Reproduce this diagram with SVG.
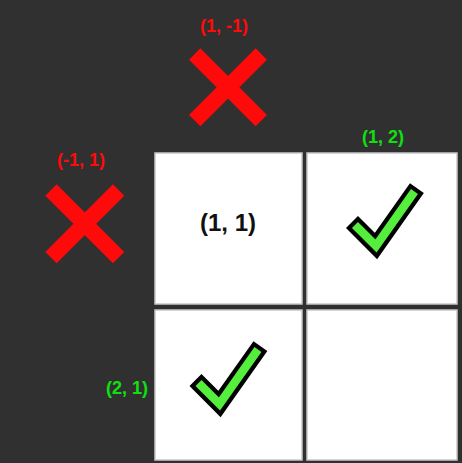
<svg xmlns="http://www.w3.org/2000/svg" width="462" height="463" viewBox="0 0 462 463">
<defs>
<style>
.cell{fill:#ffffff;stroke:#c8c8c8;stroke-width:1.5}
.lbl{font-family:"Liberation Sans",Arial,sans-serif;font-weight:bold;font-size:18px;text-anchor:middle}
.red{fill:#ff0a0a}
.grn{fill:#10e010}
.x{stroke:#ff0a0a;stroke-width:16;stroke-linecap:butt;fill:none}
.ckb{stroke:#000;stroke-width:17;fill:none;stroke-linecap:square;stroke-linejoin:miter}
.ckg{stroke:#55ee3c;stroke-width:8.5;fill:none;stroke-linecap:square;stroke-linejoin:miter}
</style>
<g id="check">
<polyline class="ckb" points="358,228 376,246 412,195"/>
<polyline class="ckg" points="358,228 376,246 412,195"/>
</g>
</defs>
<rect x="0" y="0" width="462" height="463" fill="#303030"/>
<g id="cell-1-1">
<rect class="cell" x="155" y="153" width="147" height="151"/>
<text class="lbl" x="228" y="231" style="font-size:24px" fill="#111">(1, 1)</text>
</g>
<g id="cell-1-2">
<rect class="cell" x="307" y="153" width="150" height="151"/>
<use href="#check"/>
</g>
<g id="cell-2-1">
<rect class="cell" x="155" y="310" width="147" height="150"/>
<use href="#check" transform="translate(-156.5,158)"/>
</g>
<g id="cell-2-2">
<rect class="cell" x="307" y="310" width="150" height="150"/>
</g>
<g id="x-1-m1">
<line class="x" x1="194.7" y1="54" x2="261.3" y2="120.6"/>
<line class="x" x1="261.3" y1="54" x2="194.7" y2="120.6"/>
<text class="lbl red" x="224" y="32">(1, -1)</text>
</g>
<g id="x-m1-1">
<line class="x" x1="51" y1="190" x2="118.6" y2="257.6"/>
<line class="x" x1="118.6" y1="190" x2="51" y2="257.6"/>
<text class="lbl red" x="81" y="166">(-1, 1)</text>
</g>
<g id="lbl-1-2"><text class="lbl grn" x="383" y="143">(1, 2)</text></g>
<g id="lbl-2-1"><text class="lbl grn" x="127" y="394">(2, 1)</text></g>
<g id="connectors"></g>
</svg>
